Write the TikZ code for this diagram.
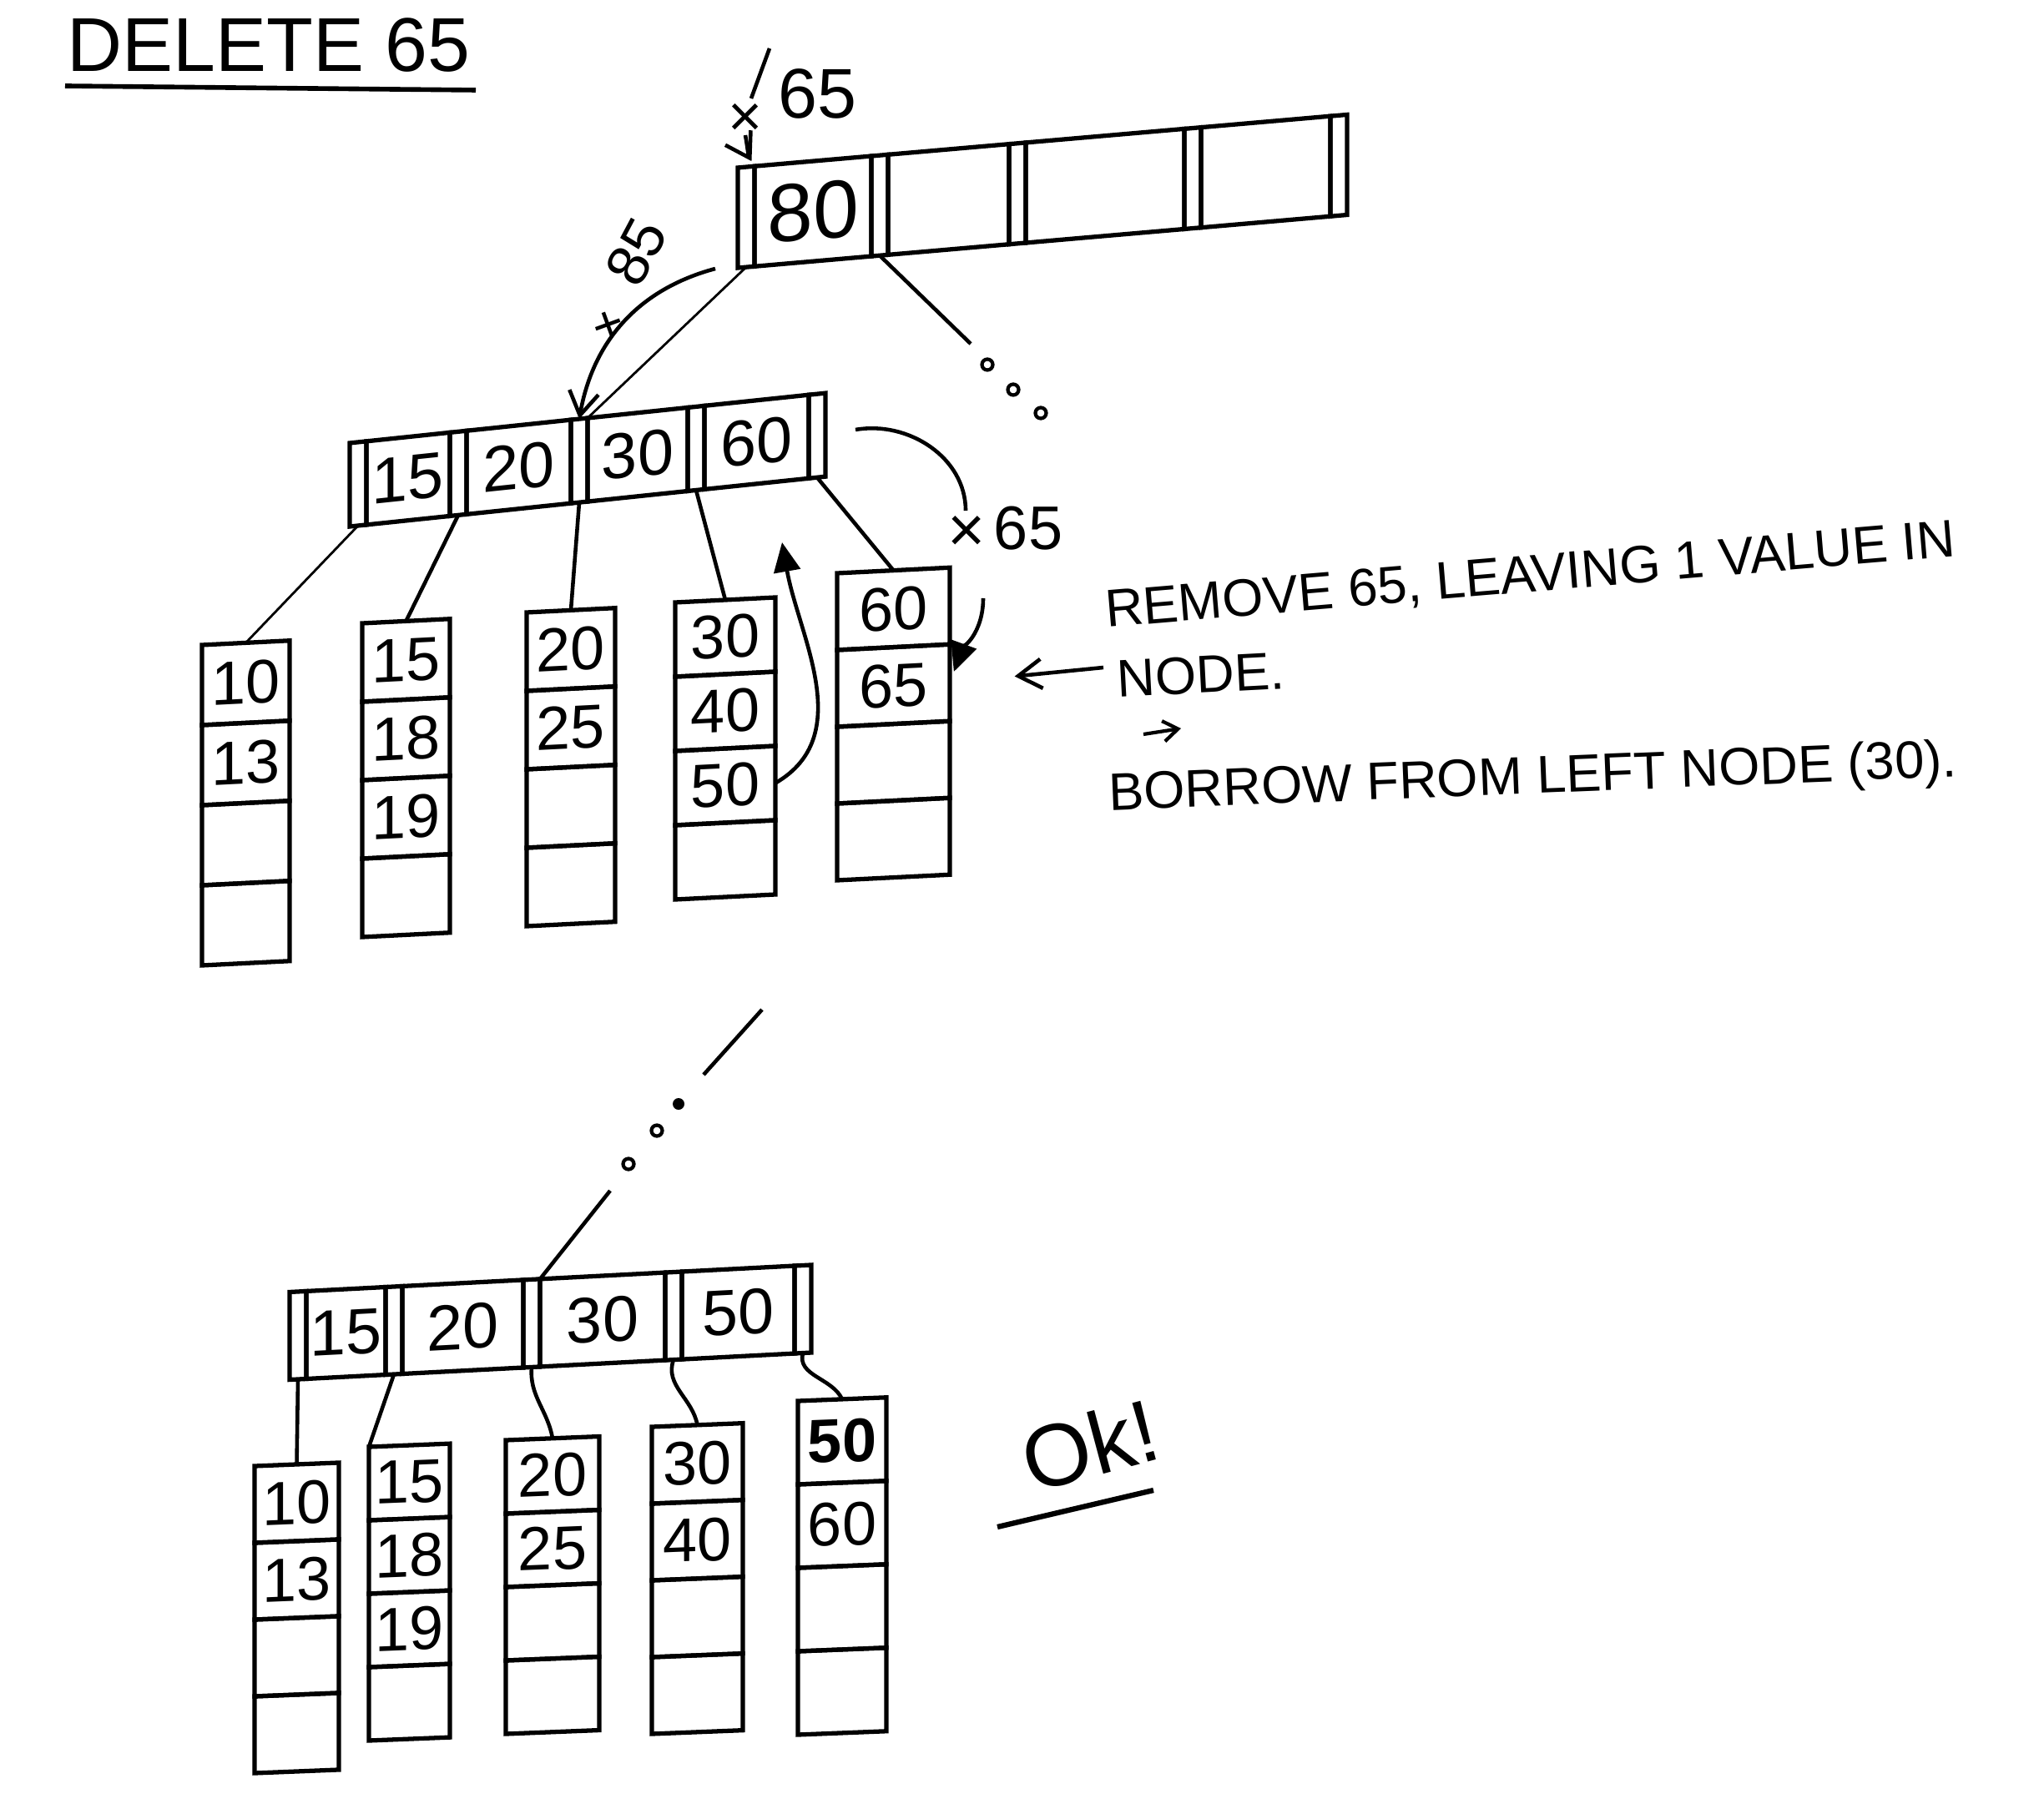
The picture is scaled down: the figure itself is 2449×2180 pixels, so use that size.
\documentclass[tikz,border=0pt]{standalone}
\usepackage{fontspec}
\setmainfont{Liberation Sans}
\usetikzlibrary{arrows.meta}
\tikzset{
  cell/.style={draw, line width=1.5pt, inner sep=0pt, outer sep=0pt, font=\fontsize{21pt}{24pt}\selectfont},
  keybox/.style={draw, line width=1.5pt, inner sep=0pt, outer sep=0pt},
  slotbox/.style={keybox, minimum width=0.2cm},
  conn/.style={line width=1.3pt},
  thinconn/.style={line width=0.8pt},
  notetext/.style={font=\fontsize{18pt}{20pt}\selectfont, inner sep=0pt},
  openarrow/.style={-{Straight Barb[length=8pt,width=10pt]}},
  triarrow/.style={-{Triangle[length=10pt,width=9pt]}},
  smalldot/.style={circle, draw, line width=1.2pt, minimum size=0.13cm, inner sep=0pt},
  lbl/.style={inner sep=0pt},
}
% leaf: name, x,y, width(px), cell height(px), slant, four texts
\newcommand{\myleaf}[9]{%
  \begin{scope}[shift={(#2)}, yslant=#5, transform shape]
    \node[cell, minimum width=#3*0.01cm, minimum height=#4*0.01cm, anchor=north west] (#1-1) at (0,0) {#6};
    \node[cell, minimum width=#3*0.01cm, minimum height=#4*0.01cm, anchor=north west] (#1-2) at (0,#4) {#7};
    \node[cell, minimum width=#3*0.01cm, minimum height=#4*0.01cm, anchor=north west] (#1-3) at (0,2*#4) {#8};
    \node[cell, minimum width=#3*0.01cm, minimum height=#4*0.01cm, anchor=north west] (#1-4) at (0,3*#4) {#9};
  \end{scope}}
\begin{document}
\begin{tikzpicture}[x=0.01cm, y=-0.01cm]
\useasboundingbox (0,0) rectangle (2449,2180);

% ---------- title ----------
\node[lbl, font=\fontsize{26pt}{28pt}\selectfont] (title) at (322,54) {DELETE 65};
\coordinate (ulA) at (78,103);
\coordinate (ulB) at (570,108);
\draw[line width=1.6pt] (ulA) -- (ulB);

% ---------- root node ----------
\begin{scope}[shift={(884,261)}, yslant=0.087, transform shape,
  every node/.append style={minimum height=1.2cm}]
  \node[slotbox] (r-s0) at (10,0) {};
  \node[keybox, minimum width=1.4cm, font=\fontsize{28pt}{30pt}\selectfont] (r-k1) at (90,0) {80};
  \node[slotbox] (r-s1) at (170,0) {};
  \node[keybox, minimum width=1.45cm] (r-k2) at (252.5,0) {};
  \node[slotbox] (r-s2) at (335,0) {};
  \node[keybox, minimum width=1.9cm] (r-k3) at (440,0) {};
  \node[slotbox] (r-s3) at (545,0) {};
  \node[keybox, minimum width=1.55cm] (r-k4) at (632.5,0) {};
  \node[slotbox] (r-s4) at (720,0) {};
\end{scope}

% ---------- top internal node ----------
\begin{scope}[shift={(419,581)}, yslant=0.105, transform shape,
  every node/.append style={minimum height=1.0cm, font=\fontsize{22pt}{24pt}\selectfont}]
  \node[slotbox] (i-s0) at (10,0) {};
  \node[keybox, minimum width=1.0cm] (i-k15) at (70,0) {15};
  \node[slotbox] (i-s1) at (130,0) {};
  \node[keybox, minimum width=1.25cm] (i-k20) at (202.5,0) {20};
  \node[slotbox] (i-s2) at (275,0) {};
  \node[keybox, minimum width=1.2cm] (i-k30) at (345,0) {30};
  \node[slotbox] (i-s3) at (415,0) {};
  \node[keybox, minimum width=1.25cm] (i-k60) at (487.5,0) {60};
  \node[slotbox] (i-s4) at (560,0) {};
\end{scope}

% ---------- top leaves ----------
\myleaf{t1}{242,773}{105}{96}{0.05}{10}{13}{}{}
\myleaf{t2}{434,747}{105}{94}{0.05}{15}{18}{19}{}
\myleaf{t3}{631,734}{106}{94}{0.05}{20}{25}{}{}
\myleaf{t4}{809,722}{120}{89}{0.05}{30}{40}{50}{}
\myleaf{t5}{1003,687}{135}{92}{0.05}{60}{65}{}{}

% ---------- root annotations ----------
\coordinate (slA) at (922,58);
\coordinate (slB) at (900,118);
\draw[conn] (slA) -- (slB);
\node[lbl, font=\fontsize{24pt}{26pt}\selectfont] (lab65a) at (979,112) {65};
\node[lbl, font=\fontsize{20pt}{22pt}\selectfont] (xa) at (893,144) {×};
\coordinate (xarrA) at (893,162);
\draw[conn, openarrow, shorten >=2pt] (xarrA) to[out=-80,in=120] (r-k1.north west);

% 85 arrow
\coordinate (c85) at (857,322);
\draw[conn, openarrow] (c85) to[out=195,in=80] (i-s2.north);
\node[lbl, rotate=62, font=\fontsize{20pt}{22pt}\selectfont] (lab85) at (762,302) {85};
\node[lbl, rotate=20, font=\fontsize{18pt}{20pt}\selectfont] (plus85) at (730,392) {+};

% root to internal / dots
\draw[thinconn] (r-s0.south) -- (i-k30.north west);
\coordinate (dotA0) at (1163,412);
\draw[conn] (r-s1.south) -- (dotA0);
\node[smalldot] (d1) at (1183,437) {};
\node[smalldot] (d2) at (1214,467) {};
\node[smalldot] (d3) at (1247,495) {};

% internal to leaves
\draw[thinconn] (i-s0.south) -- (t1-1.north);
\draw[conn] (i-s1.south) -- (t2-1.north);
\draw[conn] (i-s2.south) -- (t3-1.north);
\draw[conn] (i-s3.south) -- (t4-1.north);
\draw[conn] (i-s4.south) -- (t5-1.north);

% x 65 curve
\coordinate (cx65a) at (1025,515);
\coordinate (cx65b) at (1157,612);
\draw[conn] (cx65a) to[out=10,in=90] (cx65b);
\node[lbl, font=\fontsize{22pt}{24pt}\selectfont] (xb) at (1158,640) {×};
\node[lbl, font=\fontsize{21pt}{23pt}\selectfont] (lab65b) at (1232,633) {65};
\coordinate (cx65c) at (1178,717);
\draw[conn, triarrow, shorten >=4pt] (cx65c) to[out=-90,in=70] (t5-2.east);

% borrow arrow
\coordinate (borEnd) at (937,650);
\draw[conn, triarrow] (t4-3.east) to[out=30,in=-80] (borEnd);

% ---------- explanation ----------
\node[notetext, rotate=4.8, anchor=west] (rem1) at (1324,734) {REMOVE 65, LEAVING 1 VALUE IN};
\node[notetext, rotate=3, anchor=west] (rem2) at (1338,814) {NODE.};
\coordinate (remArr) at (1322,800);
\draw[conn, openarrow, shorten >=0.78cm] (remArr) -- (t5-2.east);
\coordinate (smA) at (1370,880);
\coordinate (smB) at (1415,873);
\draw[line width=1.2pt, -{Straight Barb[length=5pt,width=7pt]}] (smA) -- (smB);
\node[notetext, rotate=2.3, anchor=west] (rem3) at (1328,955) {BORROW FROM LEFT NODE (30).};

% ---------- bottom ----------
\coordinate (bdA) at (913,1210);
\coordinate (bdB) at (843,1288);
\draw[conn] (bdA) -- (bdB);
\node[circle, fill, minimum size=0.14cm, inner sep=0pt] (bd1) at (813,1323) {};
\node[smalldot] (bd2) at (787,1355) {};
\node[smalldot] (bd3) at (753,1395) {};
\coordinate (bdC) at (731,1427);

\begin{scope}[shift={(347,1601)}, yslant=0.052, transform shape,
  every node/.append style={minimum height=1.05cm, font=\fontsize{22pt}{24pt}\selectfont}]
  \node[slotbox] (b-s0) at (10,0) {};
  \node[keybox, minimum width=0.95cm] (b-k15) at (67.5,0) {15};
  \node[slotbox] (b-s1) at (125,0) {};
  \node[keybox, minimum width=1.45cm] (b-k20) at (207.5,0) {20};
  \node[slotbox] (b-s2) at (290,0) {};
  \node[keybox, minimum width=1.5cm] (b-k30) at (375,0) {30};
  \node[slotbox] (b-s3) at (460,0) {};
  \node[keybox, minimum width=1.35cm] (b-k50) at (537.5,0) {50};
  \node[slotbox] (b-s4) at (615,0) {};
\end{scope}
\draw[conn] (bdC) -- (b-s2.north east);

\myleaf{u1}{305,1757}{101}{92}{0.04}{10}{13}{}{}
\myleaf{u2}{442,1734}{97}{88}{0.04}{15}{18}{19}{}
\myleaf{u3}{606,1726}{112}{88}{0.04}{20}{25}{}{}
\myleaf{u4}{781,1710}{109}{92}{0.04}{30}{40}{}{}
\myleaf{u5}{956,1679}{106}{100}{0.04}{\bfseries 50}{60}{}{}

\draw[conn] (b-s0.south) -- (u1-1.north);
\draw[conn] (b-s1.south) -- (u2-1.north west);
\draw[conn] (b-s2.south) to[out=-95,in=100] (u3-1.north);
\draw[conn] (b-s3.south) to[out=-110,in=100] (u4-1.north);
\draw[conn] (b-s4.south) to[out=-105,in=115] (u5-1.north);

% OK
\node[lbl, rotate=15, font=\fontsize{30pt}{32pt}\selectfont] (ok) at (1306,1732) {Ok!};
\coordinate (okA) at (1195,1830);
\coordinate (okB) at (1382,1786);
\draw[line width=1.8pt] (okA) -- (okB);
\end{tikzpicture}
\end{document}
